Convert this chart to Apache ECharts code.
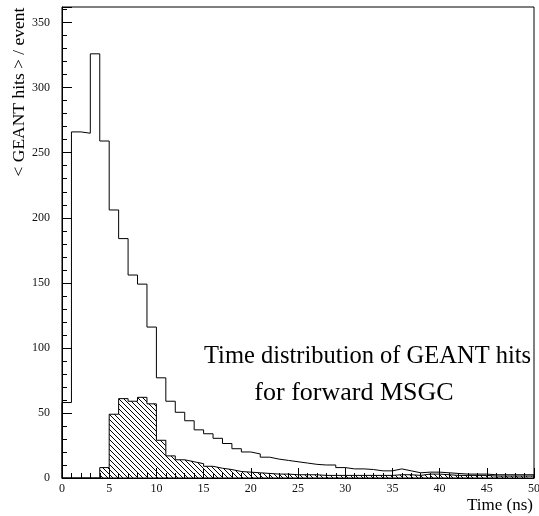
<!DOCTYPE html>
<html><head><meta charset="utf-8">
<script src="https://cdn.jsdelivr.net/npm/echarts@6/dist/echarts.min.js"></script>
<style>html,body{margin:0;padding:0;background:#fff}#c{width:539px;height:516px}</style>
</head><body><div id="c"></div>
<script>
// Bin width 1 ns, bins start at 0 ns
const binStart = 0;
const binWidth = 1;
// All GEANT hits per event (outline histogram), bins 0-1 ... 49-50 ns
const allHits = [58, 266, 265, 326, 259, 206, 184, 156, 149, 116,
  77, 59, 50.5, 44, 37, 34, 30.5, 26.5, 22.5, 20,
  18.5, 16, 14.5, 13.5, 12.5, 11.5, 10.5, 10, 10, 8,
  7, 7, 6.5, 5.5, 5.5, 7, 5.5, 4, 4.5, 4.5,
  4, 3.5, 3, 3, 3, 2.5, 2.5, 2.5, 2.5, 2.5];
// Forward MSGC hits (hatched histogram)
const msgcHits = [0, 0, 0, 0, 8, 49, 61, 59, 62, 57,
  29, 17, 14, 12.5, 11, 9, 7.5, 6.5, 5, 4.5,
  4, 3.5, 3, 3, 2.5, 2.5, 2.5, 2, 2, 2,
  2, 2, 2, 2, 2, 2.5, 2.5, 2, 3, 3,
  2.5, 2, 2, 2, 2, 1.5, 1.5, 1.5, 1.5, 1.5];
const titleLines = ['Time distribution of GEANT hits', 'for forward MSGC'];
const xAxisTitle = 'Time (ns)';
const yAxisTitle = '< GEANT hits > / event';

function stepPoints(vals) {
  const pts = [[binStart, 0]];
  vals.forEach((v, i) => pts.push([binStart + i * binWidth, v]));
  const end = binStart + vals.length * binWidth;
  pts.push([end, vals[vals.length - 1]]);
  pts.push([end, 0]);
  return pts;
}

function hatch() {
  const s = 5;
  const c = document.createElement('canvas');
  c.width = s; c.height = s;
  const g = c.getContext('2d');
  g.strokeStyle = '#000';
  g.lineWidth = 1;
  g.beginPath();
  g.moveTo(-1, -1); g.lineTo(s + 1, s + 1);
  g.moveTo(-1, s - 1); g.lineTo(1, s + 1);
  g.moveTo(s - 1, -1); g.lineTo(s + 1, 1);
  g.stroke();
  return c;
}

const serif = '"Liberation Serif", "Times New Roman", serif';
const chart = echarts.init(document.getElementById('c'), null, {renderer: 'canvas'});
chart.setOption({
  animation: false,
  backgroundColor: '#fff',
  grid: {left: 62, right: 5, top: 7, bottom: 38, outerBoundsMode: 'none', containLabel: false,
    show: true, borderColor: '#000', borderWidth: 1, backgroundColor: 'transparent'},
  xAxis: [
    {type: 'value', min: 0, max: 50, interval: 5, position: 'bottom',
      axisLine: {lineStyle: {color: '#000', width: 1}},
      axisTick: {inside: true, length: 10, lineStyle: {color: '#000'}},
      axisLabel: {color: '#111', fontFamily: serif, fontSize: 12, margin: 5, hideOverlap: false},
      splitLine: {show: false}},
    {type: 'value', min: 0, max: 50, interval: 1, position: 'bottom',
      axisLine: {show: false},
      axisTick: {inside: true, length: 5, lineStyle: {color: '#000'}},
      axisLabel: {show: false}, splitLine: {show: false}}
  ],
  yAxis: [
    {type: 'value', min: 0, max: 362, interval: 50, position: 'left',
      axisLine: {show: true, lineStyle: {color: '#000', width: 1}},
      axisTick: {show: true, inside: true, length: 10, lineStyle: {color: '#000'}},
      axisLabel: {color: '#111', fontFamily: serif, fontSize: 12, margin: 12,
        formatter: v => (v % 50 === 0 ? String(v) : '')},
      splitLine: {show: false}},
    {type: 'value', min: 0, max: 362, interval: 10, position: 'left',
      axisLine: {show: false},
      axisTick: {show: true, inside: true, length: 5, lineStyle: {color: '#000'}},
      axisLabel: {show: false}, splitLine: {show: false}}
  ],
  series: [
    {type: 'line', step: 'end', xAxisIndex: 0, yAxisIndex: 0, data: stepPoints(msgcHits),
      symbol: 'none', lineStyle: {color: '#000', width: 1},
      areaStyle: {color: {image: hatch(), repeat: 'repeat'}, opacity: 1}, z: 2},
    {type: 'line', step: 'end', xAxisIndex: 0, yAxisIndex: 0, data: stepPoints(allHits),
      symbol: 'none', lineStyle: {color: '#000', width: 1}, z: 3}
  ],
  graphic: [
    {type: 'text', x: 204, y: 357, style: {text: titleLines[0], font: '24.5px ' + serif, fill: '#000', textAlign: 'left', textVerticalAlign: 'middle'}},
    {type: 'text', x: 354, y: 393, style: {text: titleLines[1], font: '26px ' + serif, fill: '#000', textAlign: 'center', textVerticalAlign: 'middle'}},
    {type: 'text', x: 533, y: 506, style: {text: xAxisTitle, font: '17px ' + serif, fill: '#000', textAlign: 'right', textVerticalAlign: 'middle'}},
    {type: 'text', x: 19, y: 92, rotation: Math.PI / 2, style: {text: yAxisTitle, font: '17.5px ' + serif, fill: '#000', textAlign: 'center', textVerticalAlign: 'middle'}}
  ]
});
</script>
</body></html>
